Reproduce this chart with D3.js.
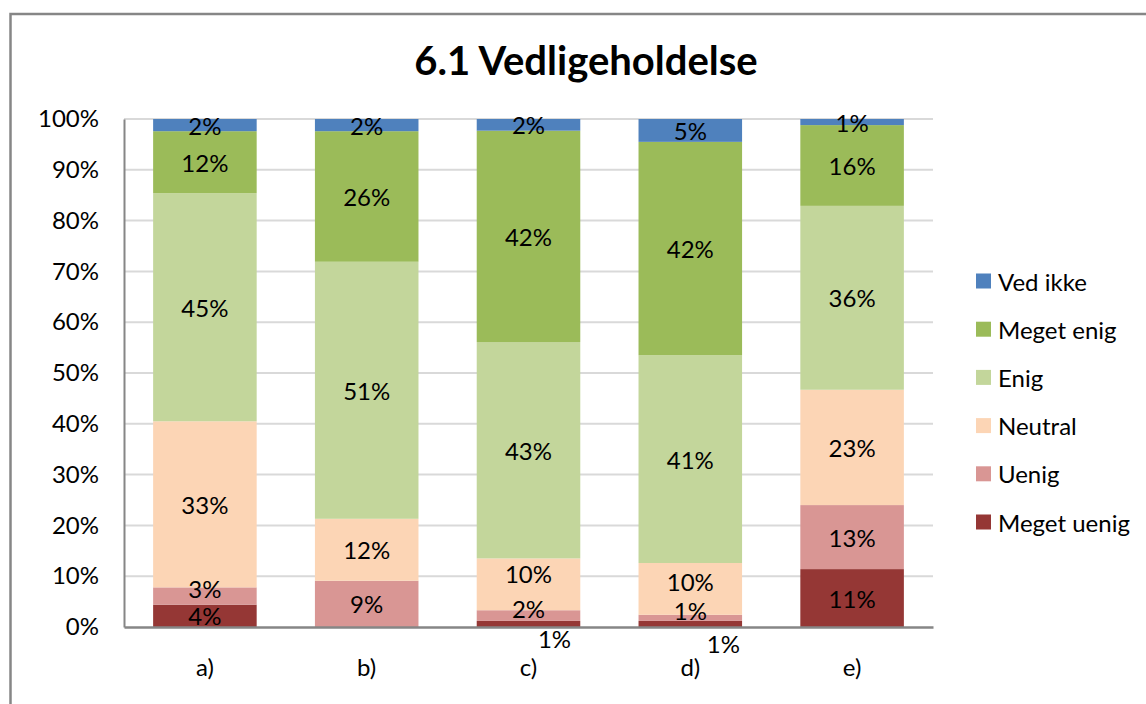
<!DOCTYPE html>
<html>
<head>
<meta charset="utf-8">
<script src="https://cdn.jsdelivr.net/npm/d3@7"></script>
<style>
  body { margin: 0; background: #fff; }
  text { font-family: Lato, 'Open Sans', sans-serif; fill: #000; }
</style>
</head>
<body>
<div id="graf"></div>
<script>
// data
const categorias = ['a)', 'b)', 'c)', 'd)', 'e)']
const serieNavne = ['Meget uenig', 'Uenig', 'Neutral', 'Enig', 'Meget enig', 'Ved ikke']
const megetUenig = [4.4, 0, 1.2, 1.2, 11.4]
const uenig = [3.4, 9.1, 2.1, 1.2, 12.6]
const neutral = [32.7, 12.2, 10.2, 10.2, 22.7]
const enig = [44.9, 50.6, 42.6, 40.9, 36.2]
const megetEnig = [12.2, 25.7, 41.6, 42.0, 15.9]
const vedIkke = [2.4, 2.4, 2.3, 4.5, 1.2]
const yTicks = [0, 10, 20, 30, 40, 50, 60, 70, 80, 90, 100]

const farver = ['#953735', '#d99694', '#fcd5b5', '#c3d69b', '#9bbb59', '#4f81bd']

// label nudges (px) for the few labels Excel moved
const flyt = [
  { c: 0, s: 1, dx: 0, dy: -8 },
  { c: 2, s: 0, dx: 26, dy: 15 },
  { c: 2, s: 1, dx: 0, dy: -7 },
  { c: 2, s: 2, dx: 0, dy: -11 },
  { c: 3, s: 0, dx: 33, dy: 20 },
  { c: 3, s: 1, dx: 0, dy: -7 },
  { c: 3, s: 2, dx: 0, dy: -7 },
]

const anchoTotal = 1146
const altoTotal = 704
const fs = '24px'

const svg = d3.select('#graf')
  .append('svg')
  .attr('width', anchoTotal)
  .attr('height', altoTotal)

// outer frame
svg.append('rect')
  .attr('x', 10.5)
  .attr('y', 14)
  .attr('width', 1200)
  .attr('height', 800)
  .attr('fill', 'none')
  .attr('stroke', '#868686')
  .attr('stroke-width', 2.5)

svg.append('text')
  .attr('x', 586)
  .attr('y', 60)
  .attr('text-anchor', 'middle')
  .attr('dominant-baseline', 'central')
  .style('font-size', '40px')
  .style('font-weight', 'bold')
  .text('6.1 Vedligeholdelse')

const margin = { top: 119, left: 124, right: 213, bottom: 77 }
const ancho = anchoTotal - margin.left - margin.right
const alto = altoTotal - margin.top - margin.bottom

const g = svg.append('g')
  .attr('transform', `translate(${margin.left}, ${margin.top})`)

const x = d3.scaleBand().domain(categorias).range([0, ancho]).paddingInner(0.36).paddingOuter(0.18)
const y = d3.scaleLinear().domain([0, 100]).range([alto, 0])

// gridlines
g.selectAll('.grid')
  .data(yTicks.filter((d) => d > 0))
  .enter()
  .append('line')
  .attr('x1', 0)
  .attr('x2', ancho)
  .attr('y1', (d) => y(d))
  .attr('y2', (d) => y(d))
  .attr('stroke', '#d9d9d9')
  .attr('stroke-width', 2)

const tabla = categorias.map((c, i) => ({
  cat: c,
  'Meget uenig': megetUenig[i],
  'Uenig': uenig[i],
  'Neutral': neutral[i],
  'Enig': enig[i],
  'Meget enig': megetEnig[i],
  'Ved ikke': vedIkke[i],
}))

const stack = d3.stack().keys(serieNavne)(tabla)

const capas = g.selectAll('.capa')
  .data(stack)
  .enter()
  .append('g')
  .attr('fill', (d, i) => farver[i])

capas.selectAll('rect')
  .data((d) => d)
  .enter()
  .append('rect')
  .attr('x', (d) => x(d.data.cat))
  .attr('y', (d) => y(d[1]))
  .attr('width', x.bandwidth())
  .attr('height', (d) => y(d[0]) - y(d[1]))

// axes
g.append('g')
  .call(d3.axisLeft(y).tickValues(yTicks).tickSize(0).tickPadding(25).tickFormat((d) => d + '%'))
  .call((a) => a.select('.domain').attr('stroke', '#868686').attr('stroke-width', 2))
  .selectAll('text')
  .style('font-size', fs)
  .style('font-family', 'Lato, sans-serif')

g.append('g')
  .attr('transform', `translate(0, ${alto})`)
  .call(d3.axisBottom(x).tickSize(0).tickPadding(32))
  .call((a) => a.select('.domain').attr('stroke', '#868686').attr('stroke-width', 2.5))
  .selectAll('text')
  .style('font-size', fs)
  .style('font-family', 'Lato, sans-serif')

// data labels
stack.forEach((serie, s) => {
  serie.forEach((d, c) => {
    const v = d.data[serie.key]
    if (v <= 0) return
    const n = flyt.find((f) => f.c === c && f.s === s) || { dx: 0, dy: 0 }
    g.append('text')
      .attr('x', x(d.data.cat) + x.bandwidth() / 2 + n.dx)
      .attr('y', y((d[0] + d[1]) / 2) + n.dy)
      .attr('text-anchor', 'middle')
      .attr('dominant-baseline', 'central')
      .style('font-size', fs)
      .text(Math.round(v) + '%')
  })
})

// legend
const leyenda = svg.append('g')
  .attr('transform', 'translate(976, 281)')

const items = leyenda.selectAll('g')
  .data(serieNavne.slice().reverse())
  .enter()
  .append('g')
  .attr('transform', (d, i) => `translate(0, ${i * 48.2})`)

items.append('rect')
  .attr('x', 0)
  .attr('y', -7.5)
  .attr('width', 15)
  .attr('height', 15)
  .attr('fill', (d) => farver[serieNavne.indexOf(d)])

items.append('text')
  .attr('x', 22)
  .attr('y', 0)
  .attr('dominant-baseline', 'central')
  .style('font-size', fs)
  .text((d) => d)
</script>
</body>
</html>
